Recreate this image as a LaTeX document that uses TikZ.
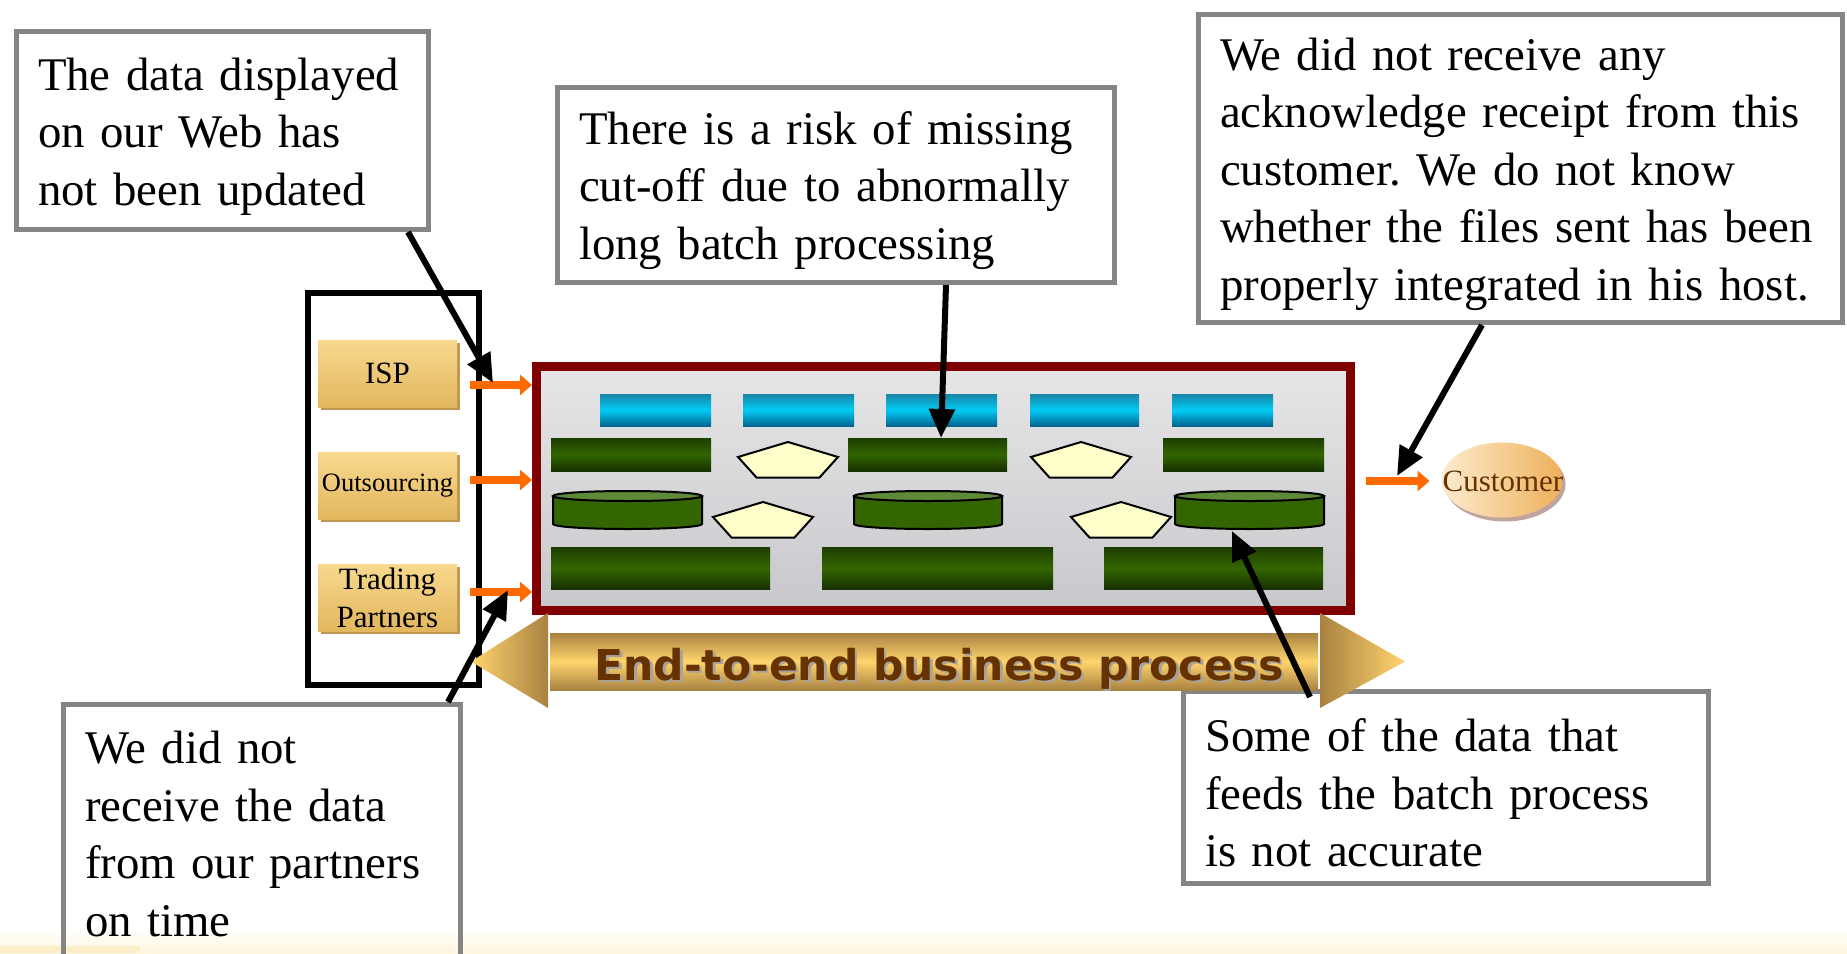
\documentclass[tikz,border=0pt]{standalone}
\usepackage{fontspec}
\setmainfont{Liberation Serif}
\newfontfamily\bannerfont{DejaVu Sans}
\usepackage{xcolor}
\definecolor{framered}{HTML}{800000}
\definecolor{notegray}{HTML}{858585}
\definecolor{feedorange}{HTML}{FF6A00}
\definecolor{goldlight}{HTML}{F8D98E}
\definecolor{golddark}{HTML}{E2B65E}
\definecolor{goldshadow}{HTML}{B98B3E}
\definecolor{goldbright}{HTML}{FFD46C}
\definecolor{golddeep}{HTML}{A98242}
\definecolor{barblue}{HTML}{00CBF5}
\definecolor{bluetop}{HTML}{1A86A6}
\definecolor{bluebottom}{HTML}{00668F}
\definecolor{bargreen}{HTML}{336600}
\definecolor{greentop}{HTML}{1C3D00}
\definecolor{greenbottom}{HTML}{173000}
\definecolor{drumtopgreen}{HTML}{5E8A38}
\definecolor{pentafill}{HTML}{FFFFCC}
\definecolor{textbrown}{HTML}{663300}
\definecolor{bannershadow}{HTML}{A8A29A}
\definecolor{peachlight}{HTML}{FCEBCF}
\definecolor{peachdark}{HTML}{EEB05A}
\definecolor{custshadow}{HTML}{8A5A50}
\definecolor{photolight}{HTML}{E6E6E8}
\definecolor{photodark}{HTML}{C8C8CC}
\definecolor{cream}{HTML}{FFF6DE}
\definecolor{creamdeep}{HTML}{FCEFC8}
\usetikzlibrary{arrows.meta, calc, shadows, positioning}
\frenchspacing

\begin{document}
\begin{tikzpicture}[x=1pt, y=-1pt,
  note/.style={draw=notegray, line width=5pt, fill=white, anchor=north west, align=left,
    inner xsep=21.5pt, inner ysep=0pt, font=\fontsize{46.8}{57.5}\selectfont},
  lowered/.style={execute at begin node={\rule{0pt}{44pt}}},
  source/.style={minimum width=139pt, minimum height=67pt, inner sep=0pt, align=center,
    top color=goldlight, bottom color=golddark, font=\fontsize{31}{38}\selectfont,
    drop shadow={shadow xshift=2.5pt, shadow yshift=-2.5pt, fill=goldshadow, opacity=0.9}},
  feed/.style={-{Triangle[length=12pt, width=20pt]}, feedorange, line width=8pt},
  callout/.style={-{Triangle[length=29pt, width=25pt]}, line width=6pt},
  bluebar/.style={top color=bluetop, bottom color=bluebottom, middle color=barblue},
  greenbar/.style={top color=greentop, bottom color=greenbottom, middle color=bargreen},
  drum/.style={draw, line width=2pt, fill=bargreen},
  drumlid/.style={draw, line width=2pt, fill=drumtopgreen},
  pent/.style={draw, line width=2pt, fill=pentafill, line join=miter},
  banner/.style={font=\bannerfont\bfseries\fontsize{42.5}{46}\selectfont, anchor=base}]
\useasboundingbox (0,0) rectangle (1847,953);
\clip (0,0) rectangle (1847,953);
% bottom strip
\shade[top color=white, bottom color=cream] (0,928) rectangle (1847,953);
\fill[creamdeep] (0,946) rectangle (140,953);
% callout boxes
\node[note, lowered, text width=369pt, minimum width=412pt, minimum height=198pt] (web) at (14,29) {The data displayed\\on our Web has\\not been updated};
\node[note, lowered, text width=514pt, minimum width=557pt, minimum height=195pt] (cutoff) at (555,85) {There is a risk of missing\\cut-off due to abnormally\\long batch processing};
\node[note, lowered, text width=601pt, minimum width=644pt, minimum height=308pt] (receipt) at (1196,12) {We did not receive any\\acknowledge receipt from this\\customer. We do not know\\whether the files sent has been\\properly integrated in his host.};
\node[note, fill=none, text width=354pt, minimum width=397pt, minimum height=259pt] (partners) at (61,702) {We did not\\receive the data\\from our partners\\on time};
\node[note, lowered, text width=482pt, minimum width=525pt, minimum height=192pt] (accuracy) at (1181,689) {Some of the data that\\feeds the batch process\\is not accurate};
% sources
\node[draw, line width=6pt, minimum width=171pt, minimum height=392pt] (sources) at (393.5,489) {};
\node[source] (isp) at (387.5,373.5) {ISP};
\node[source, font=\fontsize{26.5}{30}\selectfont] (outsourcing) at (387.5,486) {Outsourcing};
\node[source] (trading) at (387.5,597.5) {Trading\\Partners};
% batch process frame
\node[draw=framered, line width=9pt, minimum width=814pt, minimum height=244pt, inner sep=0pt,
  top color=photolight, bottom color=photodark] (batch) at (943.5,488.5) {};
\shade[bluebar] (600,394) rectangle (711,426);
\shade[bluebar] (743,394) rectangle (854,426);
\shade[bluebar] (886,394) rectangle (997,426);
\shade[bluebar] (1030,394) rectangle (1139,426);
\shade[bluebar] (1172,394) rectangle (1273,426);
\shade[greenbar] (551,438) rectangle (711,471);
\shade[greenbar] (848,438) rectangle (1007,471);
\shade[greenbar] (1163,438) rectangle (1324,471);
\draw[pent] (788,442) -- ++(50,15) -- ++(-18.5,20.5) -- ++(-63,0) -- ++(-18.5,-20.5) -- cycle;
\draw[pent] (1081,442) -- ++(50,15) -- ++(-18.5,20.5) -- ++(-63,0) -- ++(-18.5,-20.5) -- cycle;
\draw[drum] (553,496) -- (553,524) arc[start angle=180, end angle=0, x radius=74.5, y radius=5] -- (702,496) -- cycle;
\draw[drumlid] (627.5,496) ellipse [x radius=74.5, y radius=5];
\draw[drum] (854,496) -- (854,524) arc[start angle=180, end angle=0, x radius=74, y radius=5] -- (1002,496) -- cycle;
\draw[drumlid] (928,496) ellipse [x radius=74, y radius=5];
\draw[drum] (1175,496) -- (1175,524) arc[start angle=180, end angle=0, x radius=74.5, y radius=5] -- (1324,496) -- cycle;
\draw[drumlid] (1249.5,496) ellipse [x radius=74.5, y radius=5];
\draw[pent] (763,502) -- ++(50,15) -- ++(-18.5,20.5) -- ++(-63,0) -- ++(-18.5,-20.5) -- cycle;
\draw[pent] (1121,502) -- ++(50,15) -- ++(-18.5,20.5) -- ++(-63,0) -- ++(-18.5,-20.5) -- cycle;
\shade[greenbar] (551,547) rectangle (770,589);
\shade[greenbar] (822,547) rectangle (1053,589);
\shade[greenbar] (1104,547) rectangle (1323,589);
% feeds into the batch
\coordinate (ispfeed) at (470,385);
\coordinate (outfeed) at (470,480);
\coordinate (tradefeed) at (470,592);
\draw[feed] (ispfeed) -- (ispfeed -| batch.west);
\draw[feed] (outfeed) -- (outfeed -| batch.west);
\draw[feed] (tradefeed) -- (tradefeed -| batch.west);
% end-to-end arrow
\shade[top color=golddeep, bottom color=golddeep, middle color=goldbright] (550,633) rectangle (1318,690);
\shade[left color=goldbright, right color=golddeep] (471,661.5) -- (548,613) -- (548,708) -- cycle;
\shade[left color=golddeep, right color=goldbright] (1320,613) -- (1405,661.5) -- (1320,708) -- cycle;
\node[banner, text=bannershadow] at (941.5,682.5) {End-to-end business process};
\node[banner, text=textbrown] (bannertext) at (939,680) {End-to-end business process};
% customer
\fill[custshadow, opacity=0.55] (1505,484) ellipse [x radius=60.5, y radius=37.5];
\shade[left color=peachlight, right color=peachdark] (1502,480) ellipse [x radius=60.5, y radius=37.5];
\node[font=\fontsize{31}{36}\selectfont, text=textbrown, inner sep=0pt] (customer) at (1503,481) {Customer};
\draw[feed] ($(batch.east |- customer)+(11,0)$) -- ([xshift=-13pt]customer.west);
% callout arrows
\coordinate (webtip) at (493,383);
\coordinate (cutofftip) at (941,438);
\coordinate (receipttip) at (1397,476);
\coordinate (partnerstip) at (508,590);
\coordinate (accuracytip) at (1232,531);
\draw[callout] ([xshift=-23pt]web.south east) -- (webtip);
\draw[callout] ([xshift=110pt]cutoff.south) -- (cutofftip);
\draw[callout] ([xshift=-38.5pt]receipt.south) -- (receipttip);
\draw[callout] ([xshift=-15pt]partners.north east) -- (partnerstip);
\draw[callout] ([xshift=129pt,yshift=-8pt]accuracy.north west) -- (accuracytip);
\end{tikzpicture}
\end{document}
